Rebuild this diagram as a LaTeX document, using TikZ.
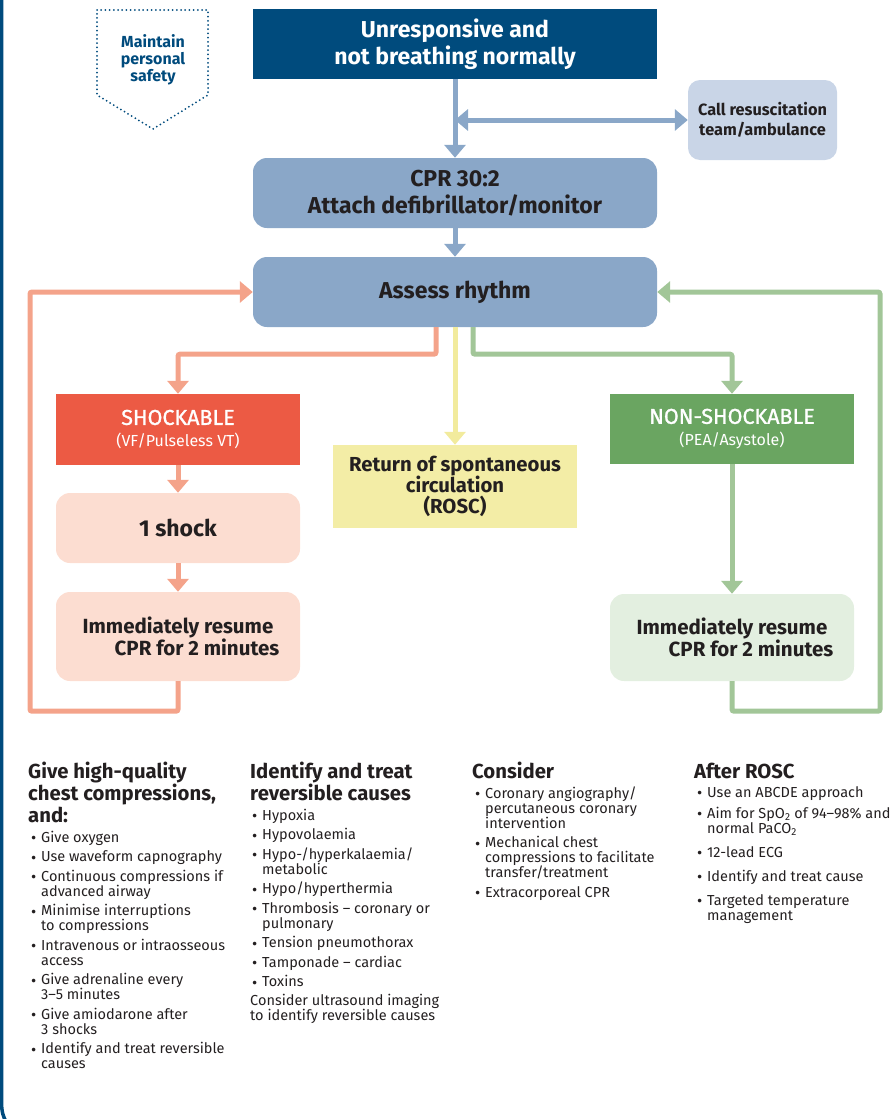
\documentclass[tikz,border=0pt]{standalone}
\usepackage{fontspec}
\setmainfont{Fira Sans}
\newfontfamily\medfont{Fira Sans}[FakeBold=1.2]
\usetikzlibrary{arrows.meta,calc}
\definecolor{dblue}{RGB}{0,75,125}
\definecolor{steel}{RGB}{138,167,200}
\definecolor{callfill}{RGB}{201,213,231}
\definecolor{salmon}{RGB}{244,163,138}
\definecolor{shockred}{RGB}{236,90,68}
\definecolor{pinkfill}{RGB}{252,221,209}
\definecolor{yline}{RGB}{242,235,157}
\definecolor{yfill}{RGB}{243,237,166}
\definecolor{gline}{RGB}{162,198,152}
\definecolor{gfill}{RGB}{106,165,97}
\definecolor{lgfill}{RGB}{227,239,224}
\definecolor{txt}{RGB}{35,31,32}
\newcommand\fsz[2]{\fontsize{#1}{#2}\selectfont}
\newcommand\bl{\makebox[10pt][l]{\raisebox{-1.8pt}{\fsz{16}{15}•}}}
\newcommand\ind{\hspace*{10pt}}
\newcommand\tightls{\lineskiplimit=-100pt\relax\lineskip=0pt\relax}
\begin{document}
\begin{tikzpicture}[x=1pt,y=-1pt,
  box/.style={inner sep=0pt, align=center, text=txt, font=\bfseries\fsz{23}{27}},
  sz/.style 2 args={minimum width=#1pt, minimum height=#2pt},
  conn/.style={line width=5pt, rounded corners=2pt, -{Triangle[width=21pt,length=13pt]}},
  colhead/.style={anchor=base west, inner sep=0pt, align=left, text=txt, font=\bfseries\fsz{20.3}{22}},
  collist/.style={anchor=base west, inner sep=0pt, align=left, text=txt, font=\fsz{14.5}{15}\tightls},
]
\path[use as bounding box] (0,0) rectangle (895,1119);
% left frame line
\draw[dblue, line width=3.5pt] (1.5,-5) -- (1.5,1100) .. controls (1.5,1112) and (3,1117) .. (7,1123);

% safety badge
\draw[dblue, line width=2pt, dash pattern=on 0pt off 4.2pt, line cap=round]
  (97,10) -- (208,10) -- (208,95) -- (153,129) -- (97,95) -- cycle;
\node[inner sep=0pt, align=center, text=dblue, font=\bfseries\fsz{16}{17}] (safety) at (153,60) {Maintain\\personal\\safety};

% main boxes
\node[box, sz={404}{70}, fill=dblue, text=white] (title) at (455,44) {Unresponsive and\\not breathing normally};
\node[box, sz={149}{80}, fill=callfill, rounded corners=12pt, font=\bfseries\fsz{16.3}{20}] (call) at (762.5,120) {Call resuscitation\\team/ambulance};
\node[box, sz={404}{70}, fill=steel, rounded corners=14pt] (cpr) at (455,193) {CPR 30:2\\Attach defibrillator/monitor};
\node[box, sz={404}{70}, fill=steel, rounded corners=14pt] (assess) at (455,292) {Assess rhythm};

\node[box, sz={244}{71}, fill=shockred, text=white, font=\medfont\fsz{21.5}{22}] (shock) at (178,429.5) {\fsz{21.5}{24}SHOCKABLE\\\fontspec{Fira Sans}\fsz{16}{20}(VF/Pulseless VT)};
\node[box, sz={244}{70}, fill=pinkfill, rounded corners=14pt] (one) at (178,528) {1 shock};
\node[box, sz={244}{89}, fill=pinkfill, rounded corners=14pt, font=\bfseries\fsz{20.5}{22}] (imml) at (178,636.5) {Immediately resume\\\hspace*{38pt}CPR for 2 minutes};

\node[box, sz={244}{83}, fill=yfill, font=\bfseries\fsz{20.3}{21}] (rosc) at (455,486.5) {Return of spontaneous\\circulation\\(ROSC)};

\node[box, sz={244}{70}, fill=gfill, text=white, font=\medfont\fsz{21.5}{22}] (nonshock) at (732,429) {\fsz{21.5}{24}NON-SHOCKABLE\\\fontspec{Fira Sans}\fsz{16}{20}(PEA/Asystole)};
\node[box, sz={244}{87}, fill=lgfill, rounded corners=14pt, font=\bfseries\fsz{20.5}{22}] (immr) at (732,637.5) {Immediately resume\\\hspace*{38pt}CPR for 2 minutes};

% connectors
\draw[conn, steel] (title.south) -- (cpr.north);
\draw[conn, steel, {Triangle[width=21pt,length=13pt]}-{Triangle[width=21pt,length=13pt]}] (title.south |- call.west) -- (call.west);
\draw[conn, steel] (cpr.south) -- (assess.north);
\draw[conn, salmon] ([xshift=-19pt]assess.south) -- ++(0,27) -| (shock.north);
\draw[conn, yline] (assess.south) -- (rosc.north);
\draw[conn, gline] ([xshift=18pt]assess.south) -- ++(0,27) -| (nonshock.north);
\draw[conn, salmon] (shock.south) -- (one.north);
\draw[conn, salmon] (one.south) -- (imml.north);
\draw[conn, gline] (nonshock.south) -- (immr.north);
\coordinate (lc) at (30,292);
\coordinate (rc) at (880,292);
\draw[conn, salmon] (imml.south) -- ++(0,30) -| (lc) -- (assess.west);
\draw[conn, gline] (immr.south) -- ++(0,30) -| (rc) -- (assess.east);

% bottom columns (base anchor = last line baseline)
\node[colhead] (h1) at (28,822) {Give high-quality\\chest compressions,\\and:};
\node[collist] (l1) at (31,1068.5) {\bl Give oxygen\\[4.5pt]
\bl Use waveform capnography\\[4.5pt]
\bl Continuous compressions if\\\ind advanced airway\\[4.5pt]
\bl Minimise interruptions\\\ind to compressions\\[4.5pt]
\bl Intravenous or intraosseous\\\ind access\\[4.5pt]
\bl Give adrenaline every\\\ind 3--5 minutes\\[4.5pt]
\bl Give amiodarone after\\\ind 3 shocks\\[4.5pt]
\bl Identify and treat reversible\\\ind causes};

\node[colhead] (h2) at (250,800) {Identify and treat\\reversible causes};
\node[collist] (l2) at (252,1020.5) {\bl Hypoxia\\[4.5pt]
\bl Hypovolaemia\\[4.5pt]
\bl Hypo-/hyperkalaemia/\\\ind metabolic\\[4.5pt]
\bl Hypo/hyperthermia\\[4.5pt]
\bl Thrombosis -- coronary or\\\ind pulmonary\\[4.5pt]
\bl Tension pneumothorax\\[4.5pt]
\bl Tamponade -- cardiac\\[4.5pt]
\bl Toxins\\[4pt]
\hspace*{-2pt}Consider ultrasound imaging\\
\hspace*{-2pt}to identify reversible causes};

\node[colhead] (h3) at (472,778) {Consider};
\node[collist] (l3) at (475,897) {\bl Coronary angiography/\\\ind percutaneous coronary\\\ind intervention\\[4.5pt]
\bl Mechanical chest\\\ind compressions to facilitate\\\ind transfer/treatment\\[4.5pt]
\bl Extracorporeal CPR};

\node[colhead] (h4) at (694,778) {After ROSC};
\node[collist] (l4) at (697,920) {\bl Use an ABCDE approach\\[6pt]
\bl Aim for SpO\textsubscript{2} of 94--98\% and\\\ind normal PaCO\textsubscript{2}\\[9pt]
\bl 12-lead ECG\\[9pt]
\bl Identify and treat cause\\[9pt]
\bl Targeted temperature\\\ind management};
\end{tikzpicture}
\end{document}
